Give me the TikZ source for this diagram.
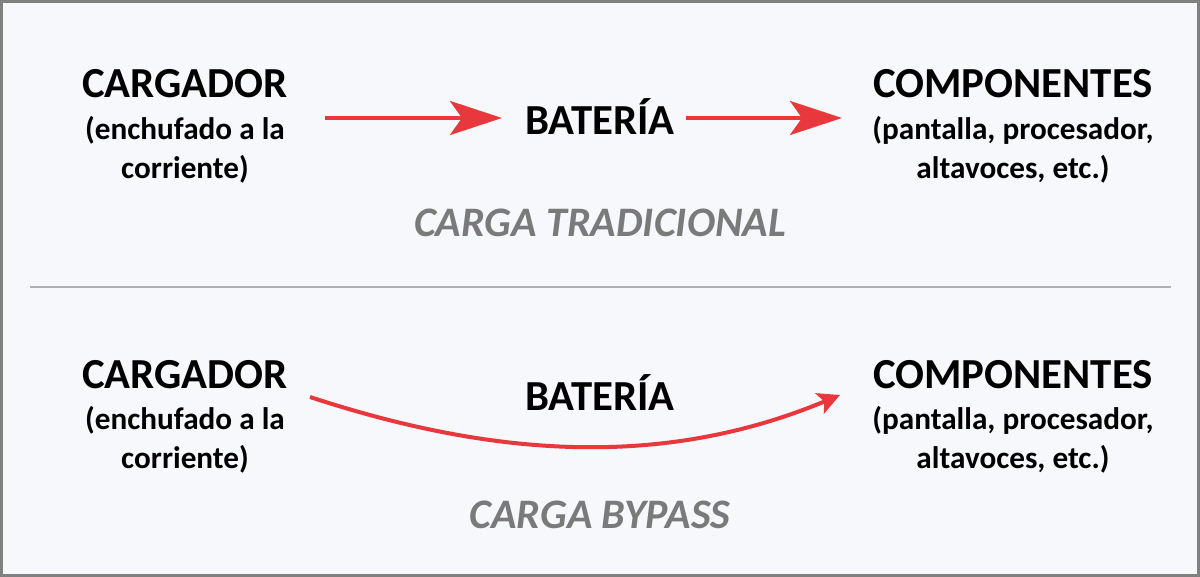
\documentclass[tikz,border=0pt]{standalone}
\usepackage{fontspec}
\setmainfont{Carlito}
\usetikzlibrary{arrows.meta}
\definecolor{bg}{HTML}{F7F8FB}
\definecolor{frame}{HTML}{808080}
\definecolor{arrowred}{HTML}{E8383D}
\definecolor{capgray}{HTML}{7A7A7A}
\definecolor{divider}{HTML}{AFAFAF}
\tikzset{
  title/.style={font=\fontsize{21.4}{24}\selectfont\bfseries, text=black, inner sep=0pt, anchor=base},
  sub/.style={font=\fontsize{15.6}{19.5}\selectfont\bfseries, text=black, inner sep=0pt, align=center, anchor=north},
  caption/.style={font=\fontsize{21}{24}\selectfont\bfseries\itshape, text=capgray, inner sep=0pt, anchor=base},
  bigarrow/.style={draw=arrowred, line width=2pt, -{Stealth[length=26pt,width=17pt,inset=6pt]}},
  curvearrow/.style={draw=arrowred, line width=2pt, -{Stealth[length=11pt,width=11pt,inset=2.5pt]}},
}
\begin{document}
\begin{tikzpicture}[x=0.5pt,y=-0.5pt]
\useasboundingbox (0,0) rectangle (1200,577);
\fill[bg] (0,0) rectangle (1200,577);
\draw[frame, line width=1.5pt] (1.5,1.5) rectangle (1198.5,575.5);
\coordinate (dl) at (30,287);
\coordinate (dr) at (1171,287);
\draw[divider, line width=1pt] (dl) -- (dr);

% top
\node[title] (c1) at (185,98) {CARGADOR};
\node[sub] (c1s) at (185,116) {(enchufado a la\\corriente)};
\node[title] (b1) at (600,135) {BATERÍA};
\node[title] (p1) at (1013,98) {COMPONENTES};
\node[sub] (p1s) at (1013,116) {(pantalla, procesador,\\altavoces, etc.)};
\node[caption] (t1) at (600,237) {CARGA TRADICIONAL};
\coordinate (a1s) at (325,118);
\coordinate (a1e) at (502,118);
\coordinate (a2s) at (686,118);
\coordinate (a2e) at (842,118);
\draw[bigarrow] (a1s) -- (a1e);
\draw[bigarrow] (a2s) -- (a2e);

% bottom
\node[title] (c2) at (185,388) {CARGADOR};
\node[sub] (c2s) at (185,406) {(enchufado a la\\corriente)};
\node[title] (b2) at (600,410) {BATERÍA};
\node[title] (p2) at (1013,388) {COMPONENTES};
\node[sub] (p2s) at (1013,406) {(pantalla, procesador,\\altavoces, etc.)};
\node[caption] (t2) at (600,528) {CARGA BYPASS};
\coordinate (bs) at (310,397);
\coordinate (be) at (840,395);
\draw[curvearrow] (bs) .. controls (490,456) and (660,470) .. (be);
\end{tikzpicture}
\end{document}
